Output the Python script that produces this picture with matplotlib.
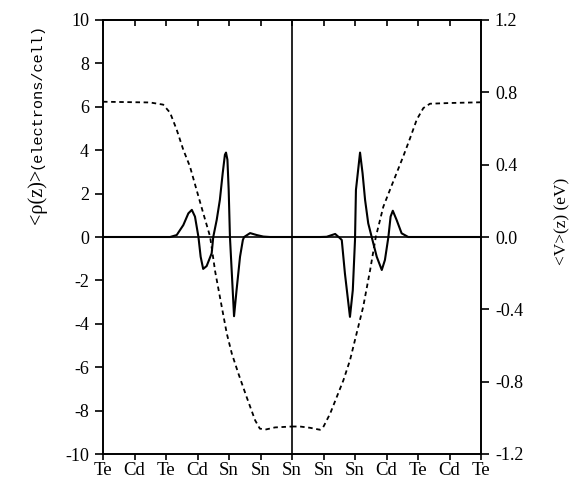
import matplotlib
matplotlib.use("Agg")
import matplotlib.pyplot as plt

plt.rcParams["axes.unicode_minus"] = False

# Atomic planes along z (tick labels)
planes = ["Te", "Cd", "Te", "Cd", "Sn", "Sn", "Sn", "Sn", "Sn", "Cd", "Te", "Cd", "Te"]

# Planar-averaged charge density <rho(z)> (electrons/cell), left axis
rho_left_x = [0.0, 2.0, 2.13, 2.34, 2.55, 2.71, 2.82, 2.92, 3.03, 3.10, 3.18, 3.29, 3.45, 3.50,
              3.61, 3.71, 3.80, 3.87, 3.905, 3.95, 3.99, 4.03, 4.09, 4.16, 4.24, 4.35, 4.44,
              4.48, 4.67, 4.88, 5.09, 5.30, 6.0]
rho_left = [0, 0, 0, 0.09, 0.55, 1.09, 1.25, 0.94, 0.0, -0.91, -1.47, -1.34, -0.75, 0.0,
            0.79, 1.71, 2.94, 3.79, 3.89, 3.56, 2.17, 0.0, -1.68, -3.65, -2.45, -0.91, -0.14,
            0.0, 0.18, 0.09, 0.02, 0.0, 0.0]
rho_right_x = [6.0, 6.89, 7.10, 7.37, 7.52, 7.58, 7.68, 7.84, 7.93, 8.0, 8.03, 8.16, 8.24,
               8.32, 8.42, 8.53, 8.69, 8.85, 8.95, 9.06, 9.13, 9.20, 9.32, 9.48, 9.69, 12.0]
rho_right = [0, 0, 0.01, 0.14, -0.05, -0.14, -1.68, -3.68, -2.45, -0.14, 2.17, 3.89, 2.94,
             1.71, 0.63, 0.0, -0.91, -1.52, -1.06, 0.0, 0.94, 1.21, 0.79, 0.17, 0.0, 0.0]

# Planar-averaged potential <V>(z) (eV), right axis
pot_left_x = [0.0, 1.49, 1.91, 2.13, 2.34, 2.55, 2.76, 2.97, 3.18, 3.40, 3.56, 3.77, 3.93,
              4.09, 4.30, 4.56, 4.83, 4.98, 5.18, 5.46, 6.0]
pot_left = [0.748, 0.744, 0.732, 0.687, 0.593, 0.482, 0.390, 0.261, 0.133, 0.002, -0.19,
            -0.386, -0.534, -0.645, -0.756, -0.885, -1.014, -1.060, -1.064, -1.053, -1.048]
pot_right_x = [6.0, 6.25, 6.57, 6.89, 6.99, 7.21, 7.42, 7.63, 7.84, 8.05, 8.26, 8.48, 8.66,
               8.90, 9.11, 9.32, 9.53, 9.75, 9.96, 10.17, 10.38, 11.02, 12.0]
pot_right = [-1.048, -1.048, -1.055, -1.066, -1.052, -0.977, -0.885, -0.793, -0.682, -0.534,
             -0.386, -0.183, 0.0, 0.168, 0.261, 0.353, 0.445, 0.547, 0.649, 0.713, 0.737,
             0.741, 0.745]

rho_ticks = [-10, -8, -6, -4, -2, 0, 2, 4, 6, 8, 10]
pot_ticks = [-1.2, -0.8, -0.4, 0.0, 0.4, 0.8, 1.2]

serif = "Liberation Serif"
mono = "Liberation Mono"

fig = plt.figure(figsize=(5.75, 4.87), dpi=100)
ax = fig.add_axes([103 / 575, 1 - 454 / 487, 378 / 575, 434 / 487])
ax2 = ax.twinx()

ax.plot(rho_left_x, rho_left, color="black", lw=1.5)
ax.plot(rho_right_x, rho_right, color="black", lw=1.5)
ax.axhline(0, color="black", lw=1.2)
ax.axvline(6, color="black", lw=1.2)

ax2.plot(pot_left_x, pot_left, color="black", lw=1.3, linestyle=(0, (2.5, 2)))
ax2.plot(pot_right_x, pot_right, color="black", lw=1.3, linestyle=(0, (2.5, 2)))

ax.set_xlim(0, 12)
ax.set_ylim(-10, 10)
ax2.set_ylim(-1.2, 1.2)

ax.set_xticks(range(len(planes)))
ax.set_xticklabels(planes)
ax.set_yticks(rho_ticks)
ax.set_yticklabels([str(t) for t in rho_ticks])
ax2.set_yticks(pot_ticks)
ax2.set_yticklabels(["%.1f" % t for t in pot_ticks])

ax.tick_params(axis="x", direction="out", length=4, width=1.2, pad=2, labelsize=13.5)
ax.tick_params(axis="y", direction="out", length=6, width=1.2, pad=4, labelsize=13)
ax2.tick_params(axis="y", direction="out", length=6, width=1.2, pad=4, labelsize=13)

top = ax.secondary_xaxis("top")
top.set_xticks(range(len(planes)))
top.set_xticklabels([])
top.tick_params(direction="in", length=4, width=1.2)

for lab in ax.get_xticklabels() + ax.get_yticklabels() + ax2.get_yticklabels():
    lab.set_fontname(serif)

for a in (ax, ax2):
    for s in a.spines.values():
        s.set_linewidth(1.2)
top.spines["top"].set_linewidth(1.2)

# Left axis label: serif symbol part + typewriter units part
fig.text(37 / 575, 1 - 169 / 487, "<\u03c1(z)>", rotation=90, rotation_mode="anchor",
         ha="right", va="center", fontsize=14.5, family=serif)
fig.text(37 / 575, 1 - 169 / 487, "(electrons/cell)", rotation=90, rotation_mode="anchor",
         ha="left", va="center", fontsize=11, family=mono)

fig.text(562 / 575, 1 - 221 / 487, "<V>(z) (eV)", rotation=90, ha="center", va="center",
         fontsize=12.5, family=serif)

fig.savefig("out.png", dpi=100)
